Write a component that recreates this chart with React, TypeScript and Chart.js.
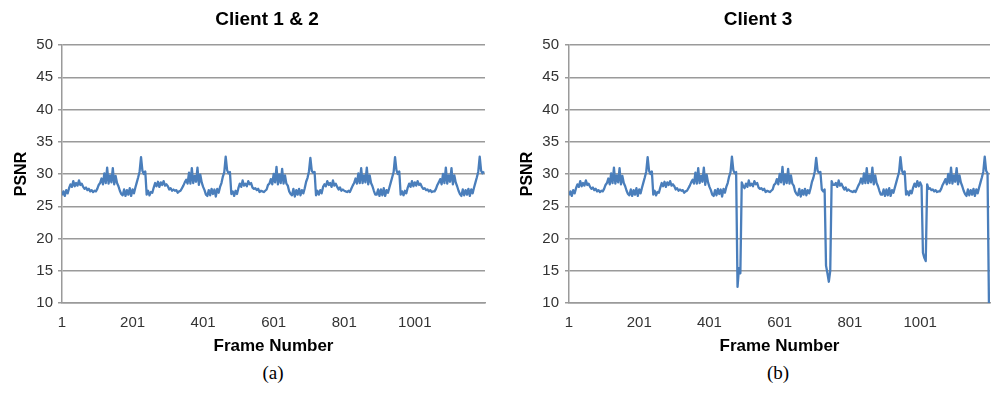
import React, { useEffect, useRef } from "react";
import { Chart, registerables } from "chart.js";

Chart.register(...registerables);

// ---- data ----
const FIRST_FRAME = 1;
const FRAME_STEP = 4; // one sample read every 4 frames
const X_MIN = 1;
const X_MAX = 1200;
const X_TICKS = [1, 201, 401, 601, 801, 1001];
const Y_MIN = 10;
const Y_MAX = 50;
const Y_STEP = 5;

const TITLES = ["Client 1 & 2", "Client 3"];
const CAPTIONS = ["(a)", "(b)"];
const X_TITLE = "Frame Number";
const Y_TITLE = "PSNR";

const psnrClient12 = [
  26.7, 27.3, 26.6, 27.5, 27.0, 27.8, 28.4, 28.0, 28.9, 28.1, 28.6, 28.2, 29.0, 28.3, 28.5,
  28.0, 27.7, 27.9, 27.5, 27.7, 27.3, 27.5, 27.2, 27.4, 27.3, 27.7, 28.3, 28.6,
  29.3, 28.4, 30.1, 28.6, 31.0, 28.5, 29.8, 28.7, 30.9, 28.4, 29.7, 28.6, 28.1, 27.4, 26.9,
  26.7, 27.6, 26.6, 27.5, 26.8, 27.8, 26.6, 27.6, 27.0, 27.9, 28.7, 29.5, 30.4, 32.6, 30.5, 30.0, 30.4,

  26.8, 27.4, 26.7, 27.2, 27.1, 27.9, 28.6, 28.1, 28.8, 28.0, 28.7, 28.3, 28.9, 28.2, 28.4,
  28.1, 27.6, 27.8, 27.4, 27.6, 27.4, 27.5, 27.1, 27.3, 27.4, 27.8, 28.2, 28.7,
  29.1, 28.5, 30.2, 28.5, 30.9, 28.6, 29.7, 28.8, 31.0, 28.3, 29.9, 28.7, 28.0, 27.5, 26.8,
  26.6, 27.5, 26.7, 27.7, 26.9, 27.6, 26.5, 27.7, 27.1, 28.0, 28.6, 29.6, 30.3, 32.7, 30.6, 30.1, 30.3,

  26.9, 27.3, 26.6, 27.4, 26.9, 27.8, 28.5, 28.0, 29.0, 28.2, 28.5, 28.1, 28.9, 28.4, 28.6,
  27.9, 27.7, 27.8, 27.5, 27.7, 27.2, 27.4, 27.3, 27.2, 27.4, 27.6, 28.3, 28.5,
  29.2, 28.4, 30.0, 28.7, 31.1, 28.4, 29.9, 28.6, 30.8, 28.5, 29.8, 28.5, 28.2, 27.3, 26.9,
  26.7, 27.7, 26.5, 27.5, 26.8, 27.7, 26.7, 27.5, 27.0, 27.8, 28.8, 29.4, 30.4, 32.5, 30.5, 30.2, 30.3,

  26.7, 27.4, 26.8, 27.5, 27.0, 28.0, 28.4, 28.1, 28.9, 28.3, 28.6, 28.0, 29.0, 28.2, 28.5,
  28.0, 27.6, 27.9, 27.4, 27.6, 27.4, 27.3, 27.2, 27.4, 27.2, 27.7, 28.2, 28.6,
  29.3, 28.5, 30.1, 28.6, 30.9, 28.6, 29.8, 28.7, 31.0, 28.4, 29.8, 28.6, 28.1, 27.4, 26.8,
  26.8, 27.6, 26.6, 27.6, 26.7, 27.8, 26.6, 27.5, 27.1, 27.9, 28.7, 29.5, 30.3, 32.6, 30.6, 30.0, 30.4,

  26.8, 27.3, 26.7, 27.4, 27.0, 27.9, 28.5, 28.0, 28.9, 28.1, 28.7, 28.2, 28.9, 28.3, 28.5,
  28.0, 27.7, 27.8, 27.5, 27.6, 27.3, 27.5, 27.2, 27.3, 27.3, 27.7, 28.3, 28.7,
  29.2, 28.4, 30.0, 28.6, 31.0, 28.5, 29.8, 28.8, 30.9, 28.4, 29.8, 28.7, 28.1, 27.4, 26.9,
  26.6, 27.6, 26.7, 27.5, 26.8, 27.7, 26.6, 27.6, 27.0, 27.9, 28.7, 29.5, 30.4, 32.7, 30.5, 30.1, 30.4,
];

const psnrClient3 = [
  26.7, 27.3, 26.6, 27.5, 27.0, 27.8, 28.4, 28.0, 28.9, 28.1, 28.6, 28.2, 29.0, 28.3, 28.5,
  28.0, 27.7, 27.9, 27.5, 27.7, 27.3, 27.5, 27.2, 27.4, 27.3, 27.7, 28.3, 28.6,
  29.3, 28.4, 30.1, 28.6, 31.0, 28.5, 29.8, 28.7, 30.9, 28.4, 29.7, 28.6, 28.1, 27.4, 26.9,
  26.7, 27.6, 26.6, 27.5, 26.8, 27.8, 26.6, 27.6, 27.0, 27.9, 28.7, 29.5, 30.4, 32.6, 30.5, 30.0, 30.4,

  26.8, 27.4, 26.7, 27.2, 27.1, 27.9, 28.6, 28.1, 28.8, 28.0, 28.7, 28.3, 28.9, 28.2, 28.4,
  28.1, 27.6, 27.8, 27.4, 27.6, 27.4, 27.5, 27.1, 27.3, 27.4, 27.8, 28.2, 28.7,
  29.1, 28.5, 30.2, 28.5, 30.9, 28.6, 29.7, 28.8, 31.0, 28.3, 29.9, 28.7, 28.0, 27.5, 26.8,
  26.6, 27.5, 26.7, 27.7, 26.9, 27.6, 26.5, 27.7, 27.1, 28.0, 28.6, 29.6, 30.3, 32.7, 30.6, 30.1, 30.3,

  12.5, 15.4, 14.6, 28.7, 28.1, 27.8, 28.5, 28.0, 29.0, 28.2, 28.5, 28.1, 28.9, 28.4, 28.6,
  27.9, 27.7, 27.8, 27.5, 27.7, 27.2, 27.4, 27.3, 27.2, 27.4, 27.6, 28.3, 28.5,
  29.2, 28.4, 30.0, 28.7, 31.1, 28.4, 29.9, 28.6, 30.8, 28.5, 29.8, 28.5, 28.2, 27.3, 26.9,
  26.7, 27.7, 26.5, 27.5, 26.8, 27.7, 26.7, 27.5, 27.0, 27.8, 28.8, 29.4, 30.4, 32.5, 30.5, 30.2, 30.3,

  27.6, 27.3, 27.6, 15.8, 14.6, 13.3, 15.0, 28.9, 28.3, 28.3, 28.6, 28.0, 29.0, 28.2, 28.5,
  28.0, 27.6, 27.9, 27.4, 27.6, 27.4, 27.3, 27.2, 27.4, 27.2, 27.7, 28.2, 28.6,
  29.3, 28.5, 30.1, 28.6, 30.9, 28.6, 29.8, 28.7, 31.0, 28.4, 29.8, 28.6, 28.1, 27.4, 26.8,
  26.8, 27.6, 26.6, 27.6, 26.7, 27.8, 26.6, 27.5, 27.1, 27.9, 28.7, 29.5, 30.3, 32.6, 30.6, 30.0, 30.4,

  26.8, 27.3, 26.7, 27.4, 27.0, 27.9, 28.5, 28.0, 28.9, 28.1, 28.7, 28.2, 17.8, 17.0, 16.5,
  28.4, 27.7, 27.8, 27.5, 27.6, 27.3, 27.5, 27.2, 27.3, 27.3, 27.7, 28.3, 28.7,
  29.2, 28.4, 30.0, 28.6, 31.0, 28.5, 29.8, 28.8, 30.9, 28.4, 29.8, 28.7, 28.1, 27.4, 26.9,
  26.6, 27.6, 26.7, 27.5, 26.8, 27.7, 26.6, 27.6, 27.0, 27.9, 28.7, 29.5, 30.4, 32.7, 30.5, 30.1, 10.0,
];

// ---- styling ----
const SANS = "'Liberation Sans', Arial, 'DejaVu Sans', sans-serif";
const SERIF = "'Liberation Serif', 'Times New Roman', serif";
const LINE_COLOR = "#4a7ebb";
const GRID_COLOR = "#9a9a9a";
const TICK_COLOR = "#333333";

type PanelProps = {
  title: string;
  values: number[];
  left: number;
  width: number;
  height: number;
  yAxisWidth: number;
  yTitlePad: number;
  yTickPad: number;
  padRight: number;
  titleCenter: number;
};

function toPoints(values: number[]) {
  return values.map((v, i) => ({ x: FIRST_FRAME + i * FRAME_STEP, y: v }));
}

function Panel(p: PanelProps) {
  const ref = useRef<HTMLCanvasElement | null>(null);
  useEffect(() => {
    if (!ref.current) return;
    const titleShift = {
      id: "titleShift",
      afterLayout(chart: any) {
        const t = chart.titleBlock;
        if (!t) return;
        const w = t.right - t.left;
        t.left = p.titleCenter - w / 2;
        t.right = p.titleCenter + w / 2;
      },
    };
    const chart = new Chart(ref.current, {
      type: "line",
      data: {
        datasets: [
          {
            data: toPoints(p.values),
            borderColor: LINE_COLOR,
            borderWidth: 2.3,
            borderJoinStyle: "round",
            pointRadius: 0,
            tension: 0,
            fill: false,
          },
        ],
      },
      plugins: [titleShift],
      options: {
        animation: false,
        responsive: false,
        maintainAspectRatio: false,
        events: [],
        layout: { padding: { left: 0, right: p.padRight, top: 0, bottom: 0 } },
        plugins: {
          legend: { display: false },
          tooltip: { enabled: false },
          title: {
            display: true,
            text: p.title,
            color: "#000",
            font: { family: SANS, size: 19, weight: "bold" },
            padding: { top: 8, bottom: 14.2 },
          },
        },
        scales: {
          x: {
            type: "linear",
            min: X_MIN,
            max: X_MAX,
            afterBuildTicks: (s: any) => {
              s.ticks = X_TICKS.map((v) => ({ value: v }));
            },
            afterFit: (s: any) => {
              s.height = p.height - 303;
            },
            grid: { display: false, drawTicks: false },
            border: { display: true, color: GRID_COLOR, width: 1.5 },
            ticks: {
              padding: 11,
              color: TICK_COLOR,
              font: { family: SANS, size: 15 },
              autoSkip: false,
              maxRotation: 0,
              callback: (v: any) => String(v),
            },
            title: {
              display: true,
              text: X_TITLE,
              color: "#000",
              font: { family: SANS, size: 17, weight: "bold" },
              padding: { top: 0, bottom: 3 },
            },
          },
          y: {
            min: Y_MIN,
            max: Y_MAX,
            afterFit: (s: any) => {
              s.width = p.yAxisWidth;
            },
            grid: { color: GRID_COLOR, lineWidth: 1.5, tickLength: 4 },
            border: { display: true, color: GRID_COLOR, width: 1.5 },
            ticks: {
              stepSize: Y_STEP,
              padding: p.yTickPad,
              color: TICK_COLOR,
              font: { family: SANS, size: 15 },
            },
            title: {
              display: true,
              text: Y_TITLE,
              color: "#000",
              font: { family: SANS, size: 16, weight: "bold" },
              padding: { top: p.yTitlePad, bottom: 0 },
            },
          },
        },
      } as any,
    });
    return () => chart.destroy();
  }, []);
  return (
    <canvas
      ref={ref}
      width={p.width}
      height={p.height}
      style={{ position: "absolute", left: p.left, top: 0, width: p.width, height: p.height, display: "block" }}
    />
  );
}

function Caption({ text, center }: { text: string; center: number }) {
  return (
    <div
      style={{
        position: "absolute",
        left: center - 40,
        width: 80,
        top: 362,
        textAlign: "center",
        fontFamily: SERIF,
        fontSize: 19,
        lineHeight: "22px",
        color: "#000",
      }}
    >
      {text}
    </div>
  );
}

export default function App() {
  return (
    <div style={{ position: "absolute", left: 0, top: 0, width: 992, height: 396, background: "#fff", overflow: "hidden" }}>
      <Panel
        title={TITLES[0]}
        values={psnrClient12}
        left={0}
        width={496}
        height={360}
        yAxisWidth={62}
        yTitlePad={12.4}
        yTickPad={5}
        padRight={11}
        titleCenter={267}
      />
      <Panel
        title={TITLES[1]}
        values={psnrClient3}
        left={496}
        width={496}
        height={360}
        yAxisWidth={73}
        yTitlePad={22.4}
        yTickPad={6}
        padRight={2}
        titleCenter={262}
      />
      <Caption text={CAPTIONS[0]} center={273} />
      <Caption text={CAPTIONS[1]} center={778} />
    </div>
  );
}
